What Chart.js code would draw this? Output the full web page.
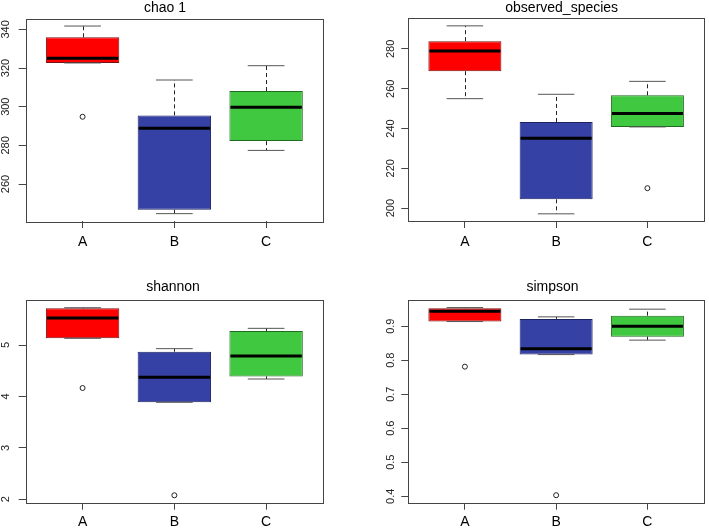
<!DOCTYPE html>
<html>
<head>
<meta charset="utf-8">
<script src="https://cdn.jsdelivr.net/npm/chart.js@4.4.1/dist/chart.umd.min.js"></script>
<style>
html,body{margin:0;padding:0;background:#fff;}
#wrap{position:relative;width:709px;height:529px;overflow:hidden;background:#fff;}
canvas{position:absolute;}
</style>
</head>
<body>
<div id="wrap"></div>
<script>
// ---------- data ----------
const categories = ['A', 'B', 'C'];

const chao1Low    = [322.6, 244.7, 277.4];
const chao1Q1     = [322.6, 246.7, 282.2];
const chao1Median = [325.0, 288.8, 299.7];
const chao1Q3     = [335.9, 295.5, 308.1];
const chao1High   = [341.7, 313.8, 321.2];
const chao1Out    = [[294.8], [], []];
const chao1Ticks  = [260, 280, 300, 320, 340];

const obsLow    = [255.0, 197.1, 240.8];
const obsQ1     = [268.8, 204.4, 240.8];
const obsMedian = [279.0, 235.1, 247.5];
const obsQ3     = [283.9, 243.3, 256.7];
const obsHigh   = [291.6, 257.2, 263.7];
const obsOut    = [[], [], [210.0]];
const obsTicks  = [200, 220, 240, 260, 280];

const shannonLow    = [5.13, 3.886, 4.339];
const shannonQ1     = [5.13, 3.886, 4.39];
const shannonMedian = [5.525, 4.372, 4.786];
const shannonQ3     = [5.713, 4.87, 5.272];
const shannonHigh   = [5.725, 4.929, 5.324];
const shannonOut    = [[4.164], [2.078], []];
const shannonTicks  = [2, 3, 4, 5];

const simpsonLow    = [0.9136, 0.8165, 0.859];
const simpsonQ1     = [0.9136, 0.8165, 0.869];
const simpsonMedian = [0.944, 0.834, 0.900];
const simpsonQ3     = [0.953, 0.9215, 0.931];
const simpsonHigh   = [0.9547, 0.9274, 0.950];
const simpsonOut    = [[0.781], [0.403], []];
const simpsonTicks  = [0.4, 0.5, 0.6, 0.7, 0.8, 0.9];

// ---------- styles ----------
const fillColors   = ['#FF0000', '#3641A5', '#40C840'];
const borderColors = ['#7a1010', '#1c2360', '#1f6a1f'];
const FONT = '"Liberation Sans", Arial, sans-serif';

const panels = [
  { title: 'chao 1', low: chao1Low, q1: chao1Q1, med: chao1Median, q3: chao1Q3, high: chao1High, out: chao1Out, ticks: chao1Ticks,
    yMin: 240.9, yMax: 345.6, ox: 0, oy: 0, W: 355, H: 265, L: 25.7, R: 323, T: 18.5, B: 221, titleX: 165, titleY: 11.7, yLabX: 8.5, xPad: 5.5 },
  { title: 'observed_species', low: obsLow, q1: obsQ1, med: obsMedian, q3: obsQ3, high: obsHigh, out: obsOut, ticks: obsTicks,
    yMin: 193.5, yMax: 295.4, ox: 355, oy: 0, W: 354, H: 265, L: 53.3, R: 351.7, T: 18.3, B: 221, titleX: 206.7, titleY: 11.7, yLabX: 38.6, xPad: 5.5 },
  { title: 'shannon', low: shannonLow, q1: shannonQ1, med: shannonMedian, q3: shannonQ3, high: shannonHigh, out: shannonOut, ticks: shannonTicks,
    yMin: 1.934, yMax: 5.875, ox: 0, oy: 265, W: 355, H: 264, L: 25.7, R: 323, T: 35, B: 237.7, titleX: 173, titleY: 26, yLabX: 8.5, xPad: 4 },
  { title: 'simpson', low: simpsonLow, q1: simpsonQ1, med: simpsonMedian, q3: simpsonQ3, high: simpsonHigh, out: simpsonOut, ticks: simpsonTicks,
    yMin: 0.381, yMax: 0.977, ox: 355, oy: 265, W: 354, H: 264, L: 53.3, R: 351.7, T: 35, B: 237.7, titleX: 197.5, titleY: 26, yLabX: 38.8, xPad: 4 }
];

const boxPlugin = {
  id: 'boxExtras',
  afterDatasetsDraw(chart) {
    const p = chart.options.plugins.boxExtras.panel;
    const ctx = chart.ctx;
    const xs = chart.scales.x, ys = chart.scales.y;
    const unit = xs.getPixelForValue(2) - xs.getPixelForValue(1);
    ctx.save();
    categories.forEach((c, i) => {
      const x = xs.getPixelForValue(i + 1);
      const yLow = ys.getPixelForValue(p.low[i]);
      const yQ1 = ys.getPixelForValue(p.q1[i]);
      const yQ3 = ys.getPixelForValue(p.q3[i]);
      const yHigh = ys.getPixelForValue(p.high[i]);
      const yMed = ys.getPixelForValue(p.med[i]);
      // whiskers (dashed)
      ctx.strokeStyle = '#222';
      ctx.lineWidth = 1;
      ctx.setLineDash([4, 3]);
      const xc = Math.round(x) + 0.5;
      if (yHigh < yQ3 - 0.5) { ctx.beginPath(); ctx.moveTo(xc, yQ3); ctx.lineTo(xc, yHigh); ctx.stroke(); }
      if (yLow > yQ1 + 0.5) { ctx.beginPath(); ctx.moveTo(xc, yQ1); ctx.lineTo(xc, yLow); ctx.stroke(); }
      ctx.setLineDash([]);
      // caps
      ctx.strokeStyle = '#555';
      const ch = unit * 0.2;
      ctx.beginPath(); ctx.moveTo(x - ch, yHigh); ctx.lineTo(x + ch, yHigh); ctx.stroke();
      ctx.beginPath(); ctx.moveTo(x - ch, yLow); ctx.lineTo(x + ch, yLow); ctx.stroke();
      // median
      const bh = unit * 0.4;
      ctx.strokeStyle = '#000';
      ctx.lineWidth = 3;
      ctx.beginPath(); ctx.moveTo(x - bh + 1, yMed); ctx.lineTo(x + bh - 1, yMed); ctx.stroke();
    });
    ctx.restore();
  },
  afterDraw(chart) {
    const p = chart.options.plugins.boxExtras.panel;
    const ctx = chart.ctx;
    const a = chart.chartArea;
    const ys = chart.scales.y;
    ctx.save();
    // frame
    ctx.strokeStyle = '#444';
    ctx.lineWidth = 1;
    ctx.strokeRect(Math.round(a.left) + 0.5, Math.round(a.top) + 0.5, Math.round(a.right - a.left), Math.round(a.bottom - a.top));
    // y tick labels (rotated, like R)
    ctx.fillStyle = '#222';
    ctx.font = '11px ' + FONT;
    ctx.textAlign = 'center';
    ctx.textBaseline = 'alphabetic';
    ys.ticks.forEach(t => {
      const y = ys.getPixelForValue(t.value);
      ctx.save();
      ctx.translate(p.yLabX, y);
      ctx.rotate(-Math.PI / 2);
      ctx.fillText(String(t.value), 0, 0);
      ctx.restore();
    });
    // title
    ctx.fillStyle = '#000';
    ctx.font = '14px ' + FONT;
    ctx.textAlign = 'center';
    ctx.fillText(p.title, p.titleX, p.titleY);
    ctx.restore();
  }
};

const wrap = document.getElementById('wrap');
panels.forEach((p, idx) => {
  const cv = document.createElement('canvas');
  cv.width = p.W; cv.height = p.H;
  cv.style.left = p.ox + 'px'; cv.style.top = p.oy + 'px';
  cv.style.width = p.W + 'px'; cv.style.height = p.H + 'px';
  wrap.appendChild(cv);
  const yTickLen = 7;
  const outPts = [];
  p.out.forEach((arr, i) => arr.forEach(v => outPts.push({ x: i + 1, y: v })));
  new Chart(cv, {
    type: 'bar',
    data: {
      datasets: [
        {
          type: 'bar',
          data: categories.map((c, i) => ({ x: i + 1, y: [p.q1[i], p.q3[i]] })),
          backgroundColor: fillColors,
          borderColor: borderColors,
          borderWidth: 1,
          borderSkipped: false,
          barPercentage: 0.8,
          categoryPercentage: 1.0
        },
        {
          type: 'scatter',
          data: outPts,
          pointStyle: 'circle',
          pointRadius: 2.5,
          pointBackgroundColor: 'rgba(255,255,255,0)',
          pointBorderColor: '#222',
          pointBorderWidth: 1
        }
      ]
    },
    options: {
      responsive: false,
      animation: false,
      devicePixelRatio: 1,
      layout: { padding: { left: p.L - yTickLen, right: p.W - p.R, top: p.T, bottom: 0 } },
      scales: {
        x: {
          type: 'linear',
          min: 0.38, max: 3.62,
          offset: false,
          afterBuildTicks: s => { s.ticks = categories.map((c, i) => ({ value: i + 1 })); },
          afterFit: s => { s.height = p.H - p.B; },
          grid: { display: true, offset: false, drawOnChartArea: false, drawTicks: true, tickLength: 7, color: '#444' },
          border: { display: false },
          ticks: {
            color: '#000',
            font: { family: FONT, size: 14 },
            padding: p.xPad,
            maxRotation: 0, minRotation: 0,
            autoSkip: false,
            callback: v => categories[Math.round(v) - 1]
          }
        },
        y: {
          type: 'linear',
          min: p.yMin, max: p.yMax,
          afterBuildTicks: s => { s.ticks = p.ticks.map(v => ({ value: v })); },
          afterFit: s => { s.width = yTickLen; },
          grid: { display: true, drawOnChartArea: false, drawTicks: true, tickLength: yTickLen, color: '#444' },
          border: { display: false },
          ticks: { display: false }
        }
      },
      plugins: {
        legend: { display: false },
        tooltip: { enabled: false },
        title: { display: false },
        boxExtras: { panel: p }
      }
    },
    plugins: [boxPlugin]
  });
});
</script>
</body>
</html>
